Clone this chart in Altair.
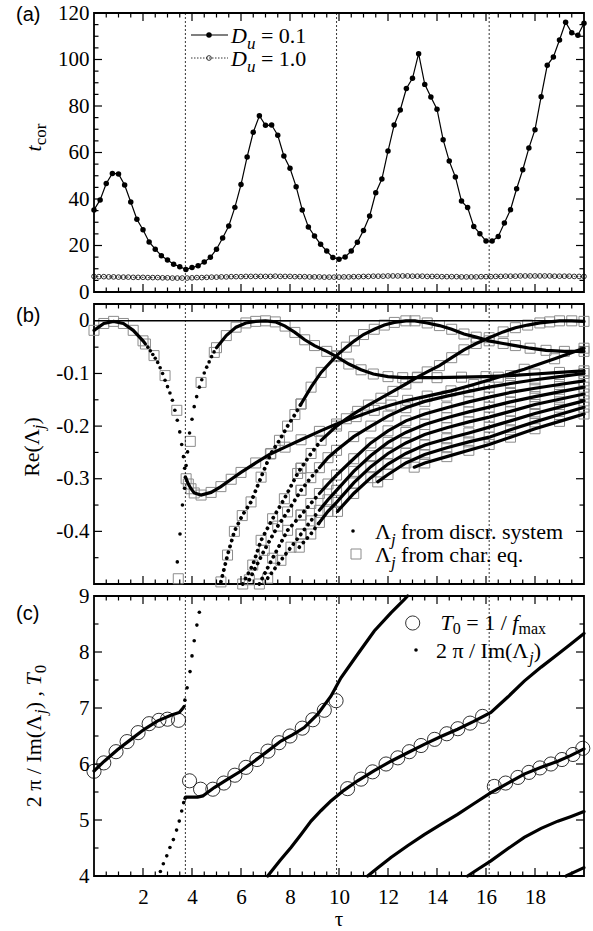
import altair as alt
import pandas as pd

SERIF = "Liberation Serif"
SANS = "Liberation Sans"
W, HA, HB, HC = 490, 279, 280, 280
DUMMY = pd.DataFrame({"d": [0]})

# ---------------- panel (a): t_cor ----------------
TAU_A1 = [k * 0.25 for k in range(81)]
TCOR_01 = [35.3, 39.6, 46.7, 51.0, 50.8, 46.0, 38.7, 31.3, 26.8, 21.5,
           18.4, 15.6, 13.8, 11.9, 10.9, 9.7, 10.5, 11.3, 12.9, 14.9,
           18.4, 23.2, 28.4, 36.4, 46.2, 58.1, 68.7, 75.8, 71.7, 71.8,
           67.4, 58.5, 53.2, 45.3, 35.3, 28.0, 24.1, 20.5, 17.6, 14.8,
           14.1, 15.1, 17.6, 21.4, 26.5, 32.7, 42.7, 48.6, 60.6, 71.8,
           78.3, 87.5, 91.9, 102.5, 89.3, 83.9, 78.6, 65.5, 56.3, 49.5,
           39.1, 36.3, 28.2, 25.1, 21.9, 21.9, 23.9, 29.7, 35.4, 44.4,
           52.6, 61.9, 69.8, 84.0, 97.5, 101.1, 108.4, 116.0, 111.5, 110.4,
           115.6]
TAU_A2 = [k * 0.2 for k in range(101)]
TCOR_10 = [6.7, 6.6, 6.6, 6.5, 6.5, 6.4, 6.4, 6.4, 6.3, 6.3,
           6.3, 6.2, 6.2, 6.2, 6.1, 6.1, 6.0, 6.0, 6.0, 6.0,
           6.1, 6.2, 6.2, 6.3, 6.4, 6.4, 6.5, 6.5, 6.6, 6.6,
           6.6, 6.7, 6.7, 6.7, 6.7, 6.7, 6.7, 6.8, 6.7, 6.7,
           6.7, 6.6, 6.6, 6.6, 6.5, 6.5, 6.5, 6.4, 6.4, 6.4,
           6.4, 6.5, 6.5, 6.6, 6.6, 6.7, 6.7, 6.8, 6.8, 6.8,
           6.9, 6.9, 6.9, 6.9, 6.9, 6.8, 6.8, 6.8, 6.7, 6.7,
           6.7, 6.6, 6.6, 6.6, 6.6, 6.5, 6.5, 6.5, 6.5, 6.6,
           6.6, 6.6, 6.7, 6.7, 6.8, 6.8, 6.8, 6.9, 6.9, 6.9,
           6.9, 6.9, 6.9, 6.9, 6.8, 6.8, 6.8, 6.8, 6.7, 6.7,
           6.7]

VLINES = [3.73, 9.9, 16.13]

# ---------------- panel (b): Re(Lambda_j) ----------------
B1_T = [0, 0.4, 0.8, 1.2, 1.6, 2.0, 2.1]
B1_R = [-0.018, -0.005, -0.001, -0.005, -0.018, -0.038, -0.044]
B1D_T = [2.2, 2.3, 2.4, 2.5, 2.6, 2.7, 2.8, 2.9, 3.0, 3.1, 3.2, 3.3, 3.4, 3.5, 3.58, 3.65, 3.7, 3.73]
B1D_R = [-0.05, -0.057, -0.064, -0.071, -0.079, -0.089, -0.1, -0.113, -0.125, -0.137, -0.151, -0.17,
         -0.189, -0.211, -0.235, -0.258, -0.28, -0.297]
B2D_T = [3.70, 3.61, 3.51, 3.40]
B2D_R = [-0.318, -0.350, -0.405, -0.458]
B3D_T = [3.76, 3.82, 3.90, 4.0, 4.09, 4.19, 4.30, 4.40, 4.50, 4.60, 4.70, 4.80, 4.90]
B3D_R = [-0.275, -0.249, -0.213, -0.187, -0.163, -0.144, -0.126, -0.112, -0.099, -0.088, -0.078, -0.068, -0.059]
B3_T = [5.0, 5.4, 5.8, 6.2, 6.6, 7.0, 7.4, 7.8, 8.2, 8.6, 9.0, 9.5, 9.9, 10.4, 10.9, 11.4, 12.0, 12.6,
        13.2, 14.0, 15.0, 16.0, 17.0, 18.0, 19.0, 20.0]
B3_R = [-0.051, -0.028, -0.012, -0.004, -0.001, 0.0, -0.002, -0.01, -0.022, -0.036, -0.047, -0.058,
        -0.068, -0.082, -0.093, -0.101, -0.106, -0.108, -0.108, -0.108, -0.107, -0.106, -0.104,
        -0.101, -0.098, -0.095]
B4_T = [3.76, 3.85, 3.96, 4.09, 4.37, 4.78, 5.18, 5.6, 6.0, 6.6, 7.2, 7.8, 8.45, 9.2, 9.9, 10.7,
        11.44, 12.12, 12.8, 13.6, 14.57, 15.5, 16.5, 17.56, 18.8, 20.0]
B4_R = [-0.30, -0.31, -0.319, -0.327, -0.331, -0.326, -0.315, -0.301, -0.288, -0.27, -0.253, -0.24,
        -0.226, -0.21, -0.196, -0.182, -0.17, -0.16, -0.151, -0.143, -0.133, -0.121, -0.107, -0.092,
        -0.072, -0.052]
B5L_T = [5.18, 5.45, 5.73, 6.05, 6.41, 6.82, 7.22, 7.57, 7.9, 8.2, 8.45]
B5L_R = [-0.496, -0.445, -0.40, -0.37, -0.344, -0.297, -0.252, -0.227, -0.2, -0.178, -0.158]
B5_T = [8.45, 8.86, 9.27, 9.9, 10.3, 10.63, 11.0, 11.44, 11.85, 12.26, 12.73, 13.1, 13.6, 14.1, 14.6,
        15.1, 15.6, 16.13, 16.7, 17.2, 17.8, 18.45, 19.2, 20.0]
B5_R = [-0.158, -0.126, -0.098, -0.066, -0.05, -0.038, -0.026, -0.016, -0.008, -0.003, 0.0, 0.0,
        -0.004, -0.009, -0.016, -0.025, -0.031, -0.038, -0.043, -0.047, -0.052, -0.056, -0.058, -0.058]
B6L_T = [6.07, 6.48, 6.82, 7.29, 7.77, 8.31, 8.45]
B6L_R = [-0.5, -0.464, -0.417, -0.376, -0.338, -0.29, -0.28]
B6_T = [8.45, 8.86, 9.27, 9.9, 10.3, 10.76, 11.2, 11.71, 12.2, 12.73, 13.2, 13.6, 14.1, 14.6, 15.1,
        15.6, 16.13, 16.7, 17.2, 17.7, 18.2, 18.6, 19.0, 19.5, 20.0]
B6_R = [-0.28, -0.252, -0.227, -0.2, -0.186, -0.172, -0.16, -0.147, -0.134, -0.12, -0.107, -0.097,
        -0.085, -0.07, -0.055, -0.043, -0.032, -0.021, -0.013, -0.008, -0.004, -0.002, 0.0, 0.0, -0.001]
LT = [8.45, 8.85, 9.2, 9.55, 9.9, 10.6, 11.3, 12.0, 12.73, 13.5, 14.4, 15.3, 16.13, 17.0, 18.0, 19.0, 20.0]
L1L_T = [6.34, 6.95, 7.5, 7.9, 8.45]
L1L_R = [-0.492, -0.436, -0.39, -0.363, -0.322]
L1_R = [-0.322, -0.298, -0.279, -0.26, -0.246, -0.22, -0.2, -0.181, -0.165, -0.153, -0.143, -0.134,
        -0.126, -0.119, -0.112, -0.106, -0.100]
L2L_T = [6.75, 7.29, 7.9, 8.45]
L2L_R = [-0.5, -0.451, -0.398, -0.369]
L2_R = [-0.369, -0.347, -0.328, -0.31, -0.293, -0.262, -0.232, -0.209, -0.19, -0.177, -0.165, -0.154,
        -0.145, -0.136, -0.128, -0.121, -0.114]
L3L_T = [7.09, 7.63, 8.04, 8.45]
L3L_R = [-0.489, -0.455, -0.43, -0.405]
L3_R = [-0.405, -0.38, -0.36, -0.34, -0.322, -0.286, -0.256, -0.231, -0.212, -0.197, -0.184, -0.173,
        -0.164, -0.154, -0.144, -0.135, -0.126]
L4_T = [8.38, 8.85, 9.2, 9.55, 9.9, 10.6, 11.3, 12.0, 12.73, 13.5, 14.4, 15.3, 16.13, 17.0, 18.0, 19.0, 20.0]
L4_R = [-0.43, -0.405, -0.383, -0.362, -0.345, -0.308, -0.277, -0.252, -0.232, -0.216, -0.203, -0.192,
        -0.183, -0.172, -0.159, -0.149, -0.139]
L5_T = [9.94, 10.6, 11.3, 12.0, 12.73, 13.5, 14.4, 15.3, 16.13, 17.0, 18.0, 19.0, 20.0]
L5_R = [-0.362, -0.328, -0.298, -0.272, -0.252, -0.236, -0.224, -0.213, -0.202, -0.19, -0.176, -0.164, -0.152]
L6_T = [11.58, 12.0, 12.73, 13.5, 14.4, 15.3, 16.13, 17.0, 18.0, 19.0, 20.0]
L6_R = [-0.306, -0.292, -0.27, -0.254, -0.241, -0.23, -0.221, -0.207, -0.192, -0.178, -0.164]
L7_T = [13.07, 13.5, 14.4, 15.3, 16.13, 17.0, 18.0, 19.0, 20.0]
L7_R = [-0.278, -0.27, -0.258, -0.246, -0.235, -0.221, -0.205, -0.191, -0.177]
SQX_T = [2.45, 2.9, 3.38, 3.44, 3.93, 4.37, 4.91]
SQX_R = [-0.066, -0.104, -0.17, -0.49, -0.229, -0.117, -0.06]

# ---------------- panel (c): periods ----------------
C1_T = [0, 0.42, 0.97, 1.51, 2.05, 2.6, 3.14, 3.48, 3.6, 3.68]
C1_V = [5.875, 6.05, 6.26, 6.44, 6.62, 6.77, 6.87, 6.92, 6.98, 7.03]
C1D_T = [3.71, 3.8, 3.92, 4.0, 4.09, 4.2, 4.3]
C1D_V = [7.14, 7.36, 7.65, 7.93, 8.2, 8.48, 8.71]
CLD_T = [2.71, 2.83, 2.97, 3.1, 3.24, 3.37, 3.48, 3.58, 3.66, 3.72]
CLD_V = [4.08, 4.22, 4.36, 4.51, 4.65, 4.82, 4.98, 5.16, 5.31, 5.39]
C2_T = [3.74, 4.0, 4.23, 4.44, 4.91, 5.46, 6.0, 6.54, 7.09, 7.63, 8.1, 8.58, 9.13, 9.67, 10.08, 10.76,
        11.44, 12.12, 12.67, 12.8]
C2_V = [5.41, 5.41, 5.41, 5.43, 5.58, 5.73, 5.875, 6.05, 6.23, 6.41, 6.52, 6.65, 6.89, 7.21, 7.54, 7.96,
        8.375, 8.70, 8.94, 9.0]
C3_T = [7.09, 7.6, 8.04, 8.45, 8.86, 9.27, 9.67, 10.2, 10.76, 11.44, 12.12, 12.8, 13.48, 14.16, 14.84,
        15.5, 16.2, 16.9, 17.56, 18.25, 18.93, 19.45, 20.0]
C3_V = [4.0, 4.28, 4.51, 4.74, 4.98, 5.17, 5.34, 5.53, 5.70, 5.88, 6.05, 6.20, 6.35, 6.49, 6.62, 6.76,
        6.92, 7.2, 7.48, 7.73, 7.96, 8.14, 8.33]
C4_T = [11.17, 11.6, 12.12, 12.8, 13.48, 14.16, 14.84, 15.5, 16.2, 16.9, 17.56, 18.25, 18.93, 19.45, 20.0]
C4_V = [4.0, 4.15, 4.33, 4.54, 4.74, 4.92, 5.10, 5.29, 5.49, 5.66, 5.82, 5.94, 6.05, 6.15, 6.27]
C5_T = [15.25, 15.7, 16.2, 16.9, 17.56, 18.25, 18.93, 19.45, 20.0]
C5_V = [4.0, 4.13, 4.27, 4.49, 4.69, 4.85, 4.98, 5.06, 5.15]
C6_T = [19.27, 19.6, 20.0]
C6_V = [4.0, 4.07, 4.15]
T0_T = [0, 0.4, 0.9, 1.35, 1.8, 2.25, 2.65, 3.0, 3.45,
        3.9, 4.35, 4.85, 5.3, 5.75, 6.2, 6.65, 7.1, 7.55, 8.0, 8.5, 8.93, 9.4, 9.88,
        10.35, 10.9, 11.37, 11.92, 12.4, 12.87, 13.35, 13.9, 14.4, 14.85, 15.35, 15.86,
        16.34, 16.8, 17.3, 17.75, 18.2, 18.65, 19.1, 19.55, 19.95]
T0_V = [5.87, 6.02, 6.22, 6.4, 6.56, 6.72, 6.78, 6.8, 6.78,
        5.70, 5.55, 5.55, 5.66, 5.8, 5.94, 6.08, 6.23, 6.38, 6.5, 6.64, 6.79, 6.96, 7.13,
        5.56, 5.73, 5.86, 6.0, 6.11, 6.22, 6.33, 6.44, 6.54, 6.63, 6.73, 6.85,
        5.6, 5.66, 5.76, 5.85, 5.93, 6.0, 6.08, 6.17, 6.28]

# ticks / labels
X_LAB = [2, 4, 6, 8, 10, 12, 14, 16, 18]
X_MIN = [k * 0.5 for k in range(1, 40) if k % 4 != 0]
YA_LAB = [0, 20, 40, 60, 80, 100, 120]
YA_MAJ = [20, 40, 60, 80, 100]
YA_MIN = [5, 10, 15, 25, 30, 35, 45, 50, 55, 65, 70, 75, 85, 90, 95, 105, 110, 115]
YB_LAB = [0, -0.1, -0.2, -0.3, -0.4]
YB_MIN = [-0.05, -0.15, -0.25, -0.35, -0.45]
YC_LAB = [4, 5, 6, 7, 8, 9]
YC_MAJ = [5, 6, 7, 8]
YC_MIN = [4.5, 5.5, 6.5, 7.5, 8.5]


def pairs(t, v):
    assert len(t) == len(v), (t, v)
    return list(zip(t, v))


def long_df(curves):
    rows = []
    for name, (t, v) in curves.items():
        for a, b in pairs(t, v):
            rows.append({"curve": name, "tau": a, "v": b})
    return pd.DataFrame(rows)


# text helpers (Times metrics)
CW = {' ': .25, '(': .333, ')': .333, ',': .25, '.': .25, '/': .278, '=': .564, 'R': .667, 'e': .444,
      'I': .333, 'm': .778, 'Λ': .722, 'π': .549, 'c': .444, 'o': .5, 'r': .333, 'f': .333, 'd': .5,
      'i': .278, 's': .389, 'y': .5, 't': .278, 'h': .5, 'a': .444, 'q': .5, 'x': .5, 'l': .278,
      'n': .5, 'T': .611, 'D': .722, 'u': .5, 'j': .278}
CWI = {'T': .556, 'D': .722, 'u': .5, 't': .278, 'j': .278, 'f': .278}


def width(s, fs, it):
    return sum((CWI[c] if (it and c in CWI) else CW.get(c, 0.5)) for c in s) * fs


def compose(pieces, x, y, angle=0, align="left"):
    total = sum(width(t, fs, it) for t, fs, it, sh in pieces)
    adv = {"left": 0, "right": -total, "center": -total / 2}[align]
    out = []
    for t, fs, it, sh in pieces:
        lead = len(t) - len(t.lstrip(" "))
        s = t.strip(" ")
        a = adv + width(" " * lead, fs, it)
        if s:
            if angle == 0:
                px, py = x + a, y + sh
            else:
                px, py = x + sh, y - a
            out.append(alt.Chart(DUMMY).mark_text(
                text=s, font=SERIF, fontSize=fs, fontStyle="italic" if it else "normal",
                align="left", baseline="alphabetic", angle=angle, color="black"
            ).encode(x=alt.value(px), y=alt.value(py)))
        adv += width(t, fs, it)
    return out


def label(t, x, y):
    return alt.Chart(DUMMY).mark_text(text=t, font=SANS, fontSize=20, align="left",
                                      baseline="middle", color="black").encode(
        x=alt.value(x), y=alt.value(y))


XS = alt.Scale(domain=[0, 20], nice=False, zero=False)
YSA = alt.Scale(domain=[0, 120], nice=False, zero=False)
YSB = alt.Scale(domain=[-0.5, 0.032], nice=False, zero=False)
YSC = alt.Scale(domain=[4, 9], nice=False, zero=False)

AXC = dict(ticks=False, domain=False, grid=False, labelFont=SERIF, labelFontSize=21,
           labelColor="black", title=None, labelFlush=False, labelOverlap=False)
XAX_C = alt.Axis(values=X_LAB, format="d", labelPadding=10, **AXC)
YAX_A = alt.Axis(values=YA_LAB, format="d", labelPadding=5, **AXC)
YAX_B = alt.Axis(values=YB_LAB, labelPadding=5,
                 labelExpr="datum.value == 0 ? '0' : '-' + format(abs(datum.value), '.1f')", **AXC)
YAX_C = alt.Axis(values=YC_LAB, format="d", labelPadding=5, **AXC)


def make_enc(xax, ys, yax):
    def xe():
        return alt.X("tau:Q", scale=XS, axis=xax)

    def ye():
        return alt.Y("v:Q", scale=ys, axis=yax)
    return xe, ye


def frame_layers(h, xe, ye, ymaj, ymin):
    L = [alt.Chart(pd.DataFrame({"tau": VLINES})).mark_rule(
        color="black", strokeWidth=0.8, strokeDash=[2, 2]).encode(
        x=xe(), y=alt.value(0), y2=alt.value(h))]
    for vals, ln in ((X_LAB, 8), (X_MIN, 4.5)):
        d = pd.DataFrame({"tau": vals})
        L.append(alt.Chart(d).mark_rule(color="black", strokeWidth=1.2).encode(
            x=xe(), y=alt.value(h), y2=alt.value(h - ln)))
        L.append(alt.Chart(d).mark_rule(color="black", strokeWidth=1.2).encode(
            x=xe(), y=alt.value(0), y2=alt.value(ln)))
    for vals, ln in ((ymaj, 8), (ymin, 4.5)):
        d = pd.DataFrame({"v": vals})
        L.append(alt.Chart(d).mark_rule(color="black", strokeWidth=1.2).encode(
            y=ye(), x=alt.value(0), x2=alt.value(ln)))
        L.append(alt.Chart(d).mark_rule(color="black", strokeWidth=1.2).encode(
            y=ye(), x=alt.value(W), x2=alt.value(W - ln)))
    return L


# ---------------- build panel (a) ----------------
xa, ya = make_enc(None, YSA, YAX_A)
dfA1 = pd.DataFrame(pairs(TAU_A1, TCOR_01), columns=["tau", "v"])
dfA2 = pd.DataFrame(pairs(TAU_A2, TCOR_10), columns=["tau", "v"])
LA = frame_layers(HA, xa, ya, YA_MAJ, YA_MIN)
LA += [
    alt.Chart(dfA2).mark_line(color="black", strokeWidth=0.8, strokeDash=[1.5, 1.5]).encode(x=xa(), y=ya()),
    alt.Chart(dfA2).mark_point(shape="circle", filled=False, size=22, strokeWidth=0.8, color="black",
                               opacity=1).encode(x=xa(), y=ya()),
    alt.Chart(dfA1).mark_line(color="black", strokeWidth=1.2).encode(x=xa(), y=ya()),
    alt.Chart(dfA1).mark_circle(color="black", size=30, opacity=1).encode(x=xa(), y=ya()),
    # legend
    alt.Chart(DUMMY).mark_rule(color="black", strokeWidth=1.2).encode(
        x=alt.value(97), x2=alt.value(134), y=alt.value(22)),
    alt.Chart(DUMMY).mark_circle(color="black", size=30, opacity=1).encode(x=alt.value(115), y=alt.value(22)),
    alt.Chart(DUMMY).mark_rule(color="black", strokeWidth=0.8, strokeDash=[1.5, 1.5]).encode(
        x=alt.value(97), x2=alt.value(134), y=alt.value(45)),
    alt.Chart(DUMMY).mark_point(shape="circle", filled=False, size=22, strokeWidth=0.8, color="black",
                                opacity=1).encode(x=alt.value(115), y=alt.value(45)),
    label("(a)", -78, 2),
    alt.Chart(DUMMY).mark_rule(strokeOpacity=0).encode(
        x=alt.value(-93), x2=alt.value(0), y=alt.value(-12), y2=alt.value(-12)),
]
LA += compose([("D", 22, True, 0), ("u", 17, True, 6), (" = 0.1", 22, False, 0)], 137, 29.5)
LA += compose([("D", 22, True, 0), ("u", 17, True, 6), (" = 1.0", 22, False, 0)], 137, 52.5)
LA += compose([("t", 22, True, 0), ("cor", 17, False, 5)], -53, 124.5, angle=270, align="center")
panelA = alt.layer(*LA).properties(width=W, height=HA)

# ---------------- build panel (b) ----------------
xb, yb = make_enc(None, YSB, YAX_B)
solid = {"B1": (B1_T, B1_R), "B3": (B3_T, B3_R), "B4": (B4_T, B4_R), "B5": (B5_T, B5_R),
         "B6": (B6_T, B6_R), "L1": (LT, L1_R), "L2": (LT, L2_R), "L3": (LT, L3_R),
         "L4": (L4_T, L4_R), "L5": (L5_T, L5_R), "L6": (L6_T, L6_R), "L7": (L7_T, L7_R)}
dotted = {"B5": (B5L_T, B5L_R), "B6": (B6L_T, B6L_R), "L1": (L1L_T, L1L_R),
          "L2": (L2L_T, L2L_R), "L3": (L3L_T, L3L_R)}
dfS_all = long_df(solid)
dfDL_base = long_df(dotted)
# the steep lower stretch of these branches still looks beaded up to tau ~ 9.2
BEADED = ["B6", "L1", "L2", "L3", "L4"]
is_beaded = dfS_all["curve"].isin(BEADED)
steep = is_beaded & (dfS_all["tau"] <= 9.27)
dfS = dfS_all[~is_beaded | (dfS_all["tau"] >= 9.2)]
dfDL = pd.concat([dfDL_base, dfS_all[steep]], ignore_index=True)
dfDots = long_df({"B1": (B1D_T, B1D_R), "B2": (B2D_T, B2D_R), "B3": (B3D_T, B3D_R)})
dfSq = pd.concat([dfS_all, dfDL_base, long_df({"x": (SQX_T, SQX_R)})], ignore_index=True)

LB = [alt.Chart(dfSq).mark_square(filled=False, size=100, color="#8c8c8c", strokeWidth=1,
                                  opacity=1).encode(x=xb(), y=yb())]
LB += frame_layers(HB, xb, yb, YB_LAB[1:], YB_MIN)
LB += [
    alt.Chart(pd.DataFrame({"v": [0]})).mark_rule(color="black", strokeWidth=1.5).encode(
        y=yb(), x=alt.value(0), x2=alt.value(W)),
    alt.Chart(dfS).mark_line(color="black", strokeWidth=3.2, strokeCap="round").encode(
        x=xb(), y=yb(), detail="curve:N"),
    alt.Chart(dfDL).mark_line(color="black", strokeWidth=3.8, strokeCap="round",
                              strokeDash=[0.1, 6]).encode(x=xb(), y=yb(), detail="curve:N"),
    alt.Chart(dfDots).mark_circle(color="black", size=13, opacity=1).encode(x=xb(), y=yb()),
    alt.Chart(DUMMY).mark_circle(color="black", size=13, opacity=1).encode(x=alt.value(259), y=alt.value(227)),
    alt.Chart(DUMMY).mark_square(filled=False, size=100, color="#8c8c8c", strokeWidth=1,
                                 opacity=1).encode(x=alt.value(262), y=alt.value(250)),
    label("(b)", -78, 12),
]
LB += compose([("Λ", 22, False, 0), ("j", 17, True, 6), (" from discr. system", 22, False, 0)], 281, 234.5)
LB += compose([("Λ", 22, False, 0), ("j", 17, True, 6), (" from char. eq.", 22, False, 0)], 281, 257.5)
LB += compose([("Re(Λ", 22, False, 0), ("j", 17, True, 5), (")", 22, False, 0)], -55, 143,
              angle=270, align="center")
panelB = alt.layer(*LB).properties(width=W, height=HB)

# ---------------- build panel (c) ----------------
xc, yc = make_enc(XAX_C, YSC, YAX_C)
dfC = long_df({"C1": (C1_T, C1_V), "C2": (C2_T, C2_V), "C3": (C3_T, C3_V), "C4": (C4_T, C4_V),
               "C5": (C5_T, C5_V), "C6": (C6_T, C6_V)})
dfCD = long_df({"a": (C1D_T, C1D_V), "b": (CLD_T, CLD_V)})
dfT0 = pd.DataFrame(pairs(T0_T, T0_V), columns=["tau", "v"])
LC = frame_layers(HC, xc, yc, YC_MAJ, YC_MIN)
LC += [
    alt.Chart(dfC).mark_line(color="black", strokeWidth=3.2, strokeCap="round").encode(
        x=xc(), y=yc(), detail="curve:N"),
    alt.Chart(dfCD).mark_circle(color="black", size=13, opacity=1).encode(x=xc(), y=yc()),
    alt.Chart(dfT0).mark_point(shape="circle", filled=False, size=200, strokeWidth=0.8,
                               color="black", opacity=1).encode(x=xc(), y=yc()),
    alt.Chart(DUMMY).mark_point(shape="circle", filled=False, size=200, strokeWidth=0.8,
                                color="black", opacity=1).encode(x=alt.value(318.7), y=alt.value(27)),
    alt.Chart(DUMMY).mark_circle(color="black", size=13, opacity=1).encode(x=alt.value(322), y=alt.value(54)),
    label("(c)", -78, 18),
    alt.Chart(DUMMY).mark_text(text="τ", font=SERIF, fontSize=21, align="center",
                               baseline="alphabetic", color="black").encode(
        x=alt.value(245), y=alt.value(330)),
]
LC += compose([("T", 22, True, 0), ("0", 16, False, 4), (" = 1 / ", 22, False, 0), ("f", 22, True, 0),
               ("max", 16, False, 4)], 452, 34, align="right")
LC += compose([("2 π / Im(Λ", 22, False, 0), ("j", 16, True, 5), (")", 22, False, 0)], 447, 61.5,
              align="right")
LC += compose([("2 π / Im(Λ", 22, False, 0), ("j", 17, True, 5), (") , ", 22, False, 0),
               ("T", 22, True, 0), ("0", 17, False, 5)], -53, 140, angle=270, align="center")
panelC = alt.layer(*LC).properties(width=W, height=HC)

chart = alt.vconcat(panelA, panelB, panelC, spacing=12, bounds="flush").properties(
    padding=0).configure_view(stroke="black", strokeWidth=1.8)

chart.save("out.html", embed_options={"renderer": "svg", "actions": False})
